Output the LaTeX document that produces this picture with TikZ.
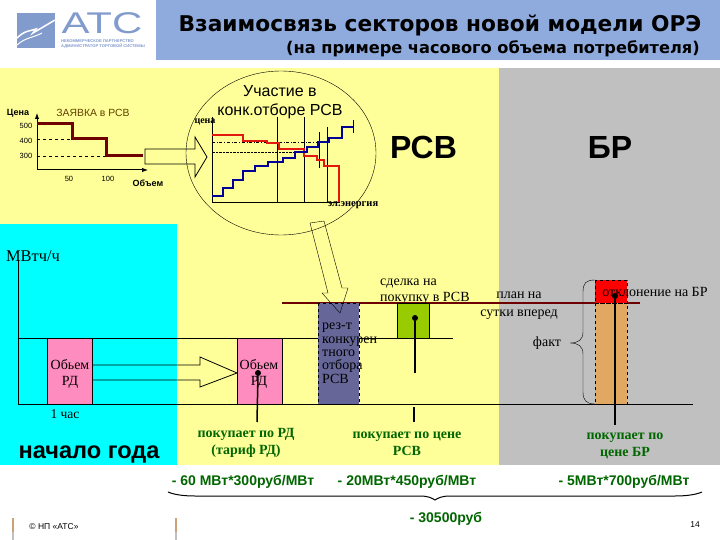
\documentclass[tikz,border=0pt]{standalone}
\usepackage{fontspec}
\setmainfont{Liberation Serif}
\setsansfont{Liberation Sans}
\newfontfamily\titlefont{DejaVu Sans}
\usetikzlibrary{positioning, arrows.meta}
\definecolor{TitleBlue}{RGB}{143, 170, 220}
\definecolor{LogoBlue}{RGB}{130, 155, 205}
\definecolor{SheetYellow}{RGB}{255, 255, 153}
\definecolor{SheetGray}{RGB}{192, 192, 192}
\definecolor{SheetCyan}{RGB}{0, 255, 255}
\definecolor{BoxPink}{RGB}{255, 140, 190}
\definecolor{BoxPurple}{RGB}{102, 102, 153}
\definecolor{BoxGreen}{RGB}{153, 204, 0}
\definecolor{BoxOrange}{RGB}{224, 168, 96}
\definecolor{BidMaroon}{RGB}{110, 0, 0}
\definecolor{BidBrown}{RGB}{96, 64, 0}
\definecolor{LabelGreen}{RGB}{0, 102, 0}
\definecolor{CurveBlue}{RGB}{0, 0, 153}
\definecolor{CurveRed}{RGB}{225, 25, 15}
\definecolor{TabTan}{RGB}{205, 160, 120}
\tikzset{
    serifnote/.style={font=\fontsize{14}{16}\selectfont, inner sep=0pt},
    paylabel/.style={font=\fontsize{14}{17}\selectfont\bfseries, text=LabelGreen, align=center, inner sep=0pt},
    sumlabel/.style={font=\sffamily\bfseries\fontsize{14}{16}\selectfont, text=LabelGreen, inner sep=0pt},
    ticklabel/.style={font=\sffamily\fontsize{7.5}{9}\selectfont, inner sep=0pt},
    boldtick/.style={font=\sffamily\bfseries\fontsize{9}{10}\selectfont, inner sep=0pt},
    sectortitle/.style={font=\sffamily\bfseries\fontsize{32}{32}\selectfont, inner sep=0pt},
    hollowarrow/.style={draw=black, line width=0.8pt, fill=none},
    dotmark/.style={circle, fill=black, inner sep=0pt, minimum size=6pt},
    payline/.style={line width=1.5pt}
}
\begin{document}
\begin{tikzpicture}[x=1pt, y=-1pt]
    \useasboundingbox (0, 0) rectangle (720, 540);
    \fill[white] (0, 0) rectangle (720, 540);

    % --- Header ---
    \fill[TitleBlue] (156, 0) rectangle (720, 60);
    \fill[LogoBlue] (17, 13) rectangle (55, 48);
    \draw[white, line width=1.5pt] (17, 38) .. controls (25, 30) and (31, 31) .. (36, 29) -- (33, 33) -- (55, 20);
    \draw[white, line width=1pt] (17, 45) .. controls (26, 37) and (33, 38) .. (42, 33);
    \node[font=\sffamily\fontsize{28}{28}\selectfont, text=LogoBlue, inner sep=0pt, xscale=1.5, yscale=1.07] (logo) at (102, 23) {АТС};
    \node[font=\sffamily\bfseries\fontsize{4.1}{5}\selectfont, text=LogoBlue, align=left, inner sep=0pt] (logotext) at (103, 43.5) {НЕКОММЕРЧЕСКОЕ ПАРТНЕРСТВО\\АДМИНИСТРАТОР ТОРГОВОЙ СИСТЕМЫ};
    \node[font=\titlefont\bfseries\fontsize{21.7}{24}\selectfont, inner sep=0pt] (title) at (440, 25) {Взаимосвязь секторов новой модели ОРЭ};
    \node[font=\titlefont\bfseries\fontsize{16.2}{18}\selectfont, inner sep=0pt] (subtitle) at (493, 49) {(на примере часового объема потребителя)};

    % --- Sectors ---
    \fill[SheetYellow] (0, 68) rectangle (499, 465);
    \fill[SheetGray] (499, 68) rectangle (720, 465);
    \fill[SheetCyan] (0, 224) rectangle (177, 465);

    % --- Bid chart ---
    \draw[-{Latex[length=6pt]}, line width=1pt] (37, 170) -- (37, 113);
    \draw[-{Latex[length=6pt]}, line width=1pt] (37, 170) -- (148, 170);
    \draw[dashed] (37, 139) -- (72, 139);
    \draw[dashed] (37, 156) -- (106, 156);
    \draw[BidMaroon, line width=3pt] (37, 124) -- (72, 124) -- (72, 138.5) -- (106, 138.5) -- (106, 156) -- (143, 156);
    \node[boldtick] (cena) at (18, 113) {Цена};
    \node[font=\sffamily\fontsize{10.4}{12}\selectfont, text=BidBrown, inner sep=0pt] (bid) at (93, 113) {ЗАЯВКА в РСВ};
    \node[ticklabel] (p500) at (26, 126) {500};
    \node[ticklabel] (p400) at (26, 141) {400};
    \node[ticklabel] (p300) at (26, 156) {300};
    \node[ticklabel] (q50) at (69, 179) {50};
    \node[ticklabel] (q100) at (108, 179) {100};
    \node[boldtick] (volume) at (148, 183) {Объем};

    % --- Auction circle ---
    \draw (281, 153) ellipse (95 and 82);
    \draw[hollowarrow] (145, 149) -- (195, 149) -- (195, 137) -- (207, 157) -- (195, 177) -- (195, 164) -- (145, 164) -- cycle;
    \draw (212, 117) -- (212, 202) -- (340, 202);
    \draw (277, 117) -- (277, 202);
    \draw (304, 117) -- (304, 202);
    \draw (327, 127) -- (327, 202);
    \draw (319, 132) -- (319, 168);
    \draw (353, 120) -- (353, 133);
    \draw[dash dot] (212, 142) -- (317, 142);
    \draw[densely dotted] (213, 152) -- (297, 152);
    \draw[CurveRed, line width=2.8pt] (212, 135) -- (243, 135) -- (243, 141) -- (267, 141) -- (267, 143) -- (279, 143) -- (279, 149) -- (304, 149) -- (304, 156) -- (317, 156) -- (317, 160) -- (324, 160) -- (324, 166) -- (339, 166) -- (339, 202);
    \draw[CurveBlue, line width=2.8pt] (212, 196) -- (223, 196) -- (223, 188) -- (233, 188) -- (233, 180) -- (243, 180) -- (243, 171) -- (255, 171) -- (255, 166) -- (268, 166) -- (268, 162) -- (283, 162) -- (283, 158) -- (295, 158) -- (295, 152) -- (307, 152) -- (307, 147) -- (318, 147) -- (318, 142) -- (329, 142) -- (329, 138) -- (342, 138) -- (342, 127) -- (353, 127);
    \node[font=\sffamily\fontsize{16}{19}\selectfont, align=center, inner sep=0pt] (auction) at (280, 102) {Участие в\\конк.отборе РСВ};
    \node[font=\bfseries\fontsize{10}{10}\selectfont, inner sep=0pt] (pricelabel) at (205, 122) {цена};
    \node[font=\bfseries\fontsize{10.5}{10}\selectfont, inner sep=0pt] (energy) at (353, 205) {эл.энергия};

    % --- Sector titles ---
    \node[sectortitle] (rsv) at (423.5, 147) {РСВ};
    \node[sectortitle] (br) at (610, 147) {БР};

    % --- Hourly volumes ---
    \draw (18, 260) -- (18, 404);
    \draw (18, 338) -- (453, 338);
    \draw[BidMaroon, line width=1.2pt] (282, 303) -- (640, 303);
    \draw[fill=BoxPink] (47, 338) rectangle (92, 404);
    \draw[fill=BoxPink] (237, 338) rectangle (282, 404);
    \draw[fill=BoxPurple, dashed] (318, 303) rectangle (359, 404);
    \draw[fill=BoxGreen] (397, 303) rectangle (429, 338);
    \draw[fill=BoxOrange, dashed] (595, 303) rectangle (627, 404);
    \draw[fill=red, dashed] (595, 280) rectangle (627, 303);
    \draw (18, 404) -- (693, 404);
    \draw[hollowarrow] (92, 365) -- (200, 365) -- (200, 357) -- (237, 373) -- (200, 387) -- (200, 380) -- (92, 380);
    \draw[hollowarrow, thin] (310, 223) -- (328, 293) -- (322, 293) -- (340, 313) -- (348, 288) -- (342, 288) -- (324, 221) -- cycle;

    % --- Payment marks ---
    \node[dotmark] (dotrd) at (258, 373) {};
    \node[dotmark] (dotrsv) at (415, 318) {};
    \node[dotmark] (dotbr) at (615, 296) {};
    \coordinate (endrd) at (257, 422);
    \coordinate (gaprsv) at (415, 373);
    \coordinate (startrsv) at (414, 407);
    \coordinate (endrsv) at (414, 422);
    \coordinate (endbr) at (615, 425);
    \draw[payline] (dotrd) -- (endrd);
    \draw[payline] (dotrsv) -- (gaprsv);
    \draw[payline] (startrsv) -- (endrsv);
    \draw[payline] (dotbr) -- (endbr);

    % --- Braces ---
    \draw (595, 280) .. controls (586, 280) and (583, 283) .. (583, 292) -- (583, 332) .. controls (583, 340) and (578, 343) .. (570, 343) .. controls (578, 343) and (583, 346) .. (583, 354) -- (583, 392) .. controls (583, 400) and (586, 404) .. (595, 404);
    \draw[line width=1pt] (168, 492) .. controls (175, 495) and (185, 496) .. (195, 496) -- (420, 496) .. controls (428, 496) and (432, 498) .. (435, 500) .. controls (438, 498) and (442, 496) .. (450, 496) -- (675, 496) .. controls (685, 496) and (695, 495) .. (702, 492);

    % --- Notes ---
    \node[font=\fontsize{16.4}{16}\selectfont, inner sep=0pt] (unit) at (33, 256) {МВтч/ч};
    \node[serifnote, align=center] (rdleft) at (70, 373.5) {Обьем\\РД};
    \node[serifnote, align=center] (rdright) at (259, 373.5) {Обьем\\РД};
    \node[serifnote, align=left, font=\fontsize{14}{13.4}\selectfont, anchor=north west] (result) at (322, 323) {рез-т\\конкурен\\тного\\отбора\\РСВ};
    \node[serifnote, align=left, anchor=north west] (deal) at (380, 279) {сделка на\\покупку в РСВ};
    \node[serifnote, font=\fontsize{14}{18}\selectfont, align=center] (plan) at (519, 306) {план на\\сутки вперед};
    \node[serifnote] (deviation) at (655, 292) {отклонение на БР};
    \node[serifnote] (fact) at (547, 343) {факт};
    \node[serifnote, font=\fontsize{13.5}{14}\selectfont] (hour) at (65, 414) {1 час};
    \node[font=\sffamily\bfseries\fontsize{23.6}{24}\selectfont, inner sep=0pt] (yearstart) at (89, 454) {начало года};

    % --- Payments ---
    \node[paylabel] (payrd) at (246, 443) {покупает по РД\\(тариф РД)};
    \node[paylabel] (payrsv) at (407, 444) {покупает по цене\\РСВ};
    \node[paylabel] (paybr) at (625, 446) {покупает по\\цене БР};
    \node[sumlabel] (sumrd) at (243, 482) {- 60 МВт*300руб/МВт};
    \node[sumlabel] (sumrsv) at (407, 482) {- 20МВт*450руб/МВт};
    \node[sumlabel] (sumbr) at (624, 482) {- 5МВт*700руб/МВт};
    \node[sumlabel] (total) at (446, 519) {- 30500руб};

    % --- Footer ---
    \fill[TabTan] (11.5, 518) rectangle (13.5, 532);
    \fill[SheetGray] (11.5, 532) rectangle (13.5, 540);
    \fill[TabTan] (174.5, 518) rectangle (176.5, 532);
    \fill[SheetGray] (174.5, 532) rectangle (176.5, 540);
    \node[font=\sffamily\fontsize{8.5}{10}\selectfont, inner sep=0pt] (copyright) at (54, 527) {© НП «АТС»};
    \node[font=\sffamily\fontsize{8.5}{10}\selectfont, inner sep=0pt] (page) at (695, 525) {14};
\end{tikzpicture}
\end{document}
